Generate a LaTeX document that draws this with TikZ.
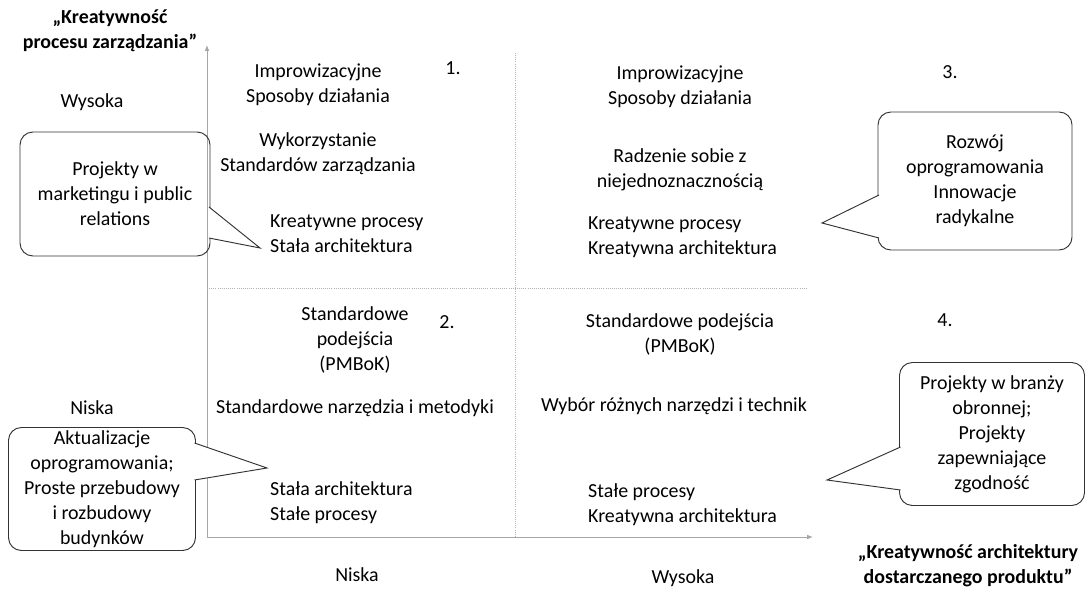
\documentclass[tikz,border=0pt]{standalone}
\usepackage{fontspec}
\setmainfont{Carlito}
\usetikzlibrary{arrows.meta}

\begin{document}
\begin{tikzpicture}[x=0.03cm,y=-0.03cm,>={Latex[length=5pt,width=4pt]},
	every node/.style={font=\fontsize{17}{21.3}\selectfont, align=center, inner sep=0pt},
	axis/.style={draw=gray!70, line width=0.8pt},
	grid/.style={draw=gray!60, densely dotted, line width=0.8pt},
	bubble/.style={draw=black!80, line width=0.8pt, rounded corners=11pt},
	pointer/.style={draw=black!80, fill=white, line width=0.8pt}]

	\useasboundingbox (0,0) rectangle (1087,593);

	% axes and quadrants
	\coordinate (O) at (207,537);
	\coordinate (ytop) at (207,45);
	\coordinate (xend) at (813,537);
	\coordinate (hl) at (207,288);
	\coordinate (hr) at (808,288);
	\coordinate (vt) at (515,53);
	\coordinate (vb) at (515,537);
	\draw [axis,->] (O) -- (ytop);
	\draw [axis,->] (O) -- (xend);
	\draw [grid] (hl) -- (hr);
	\draw [grid] (vt) -- (vb);

	\node [font=\bfseries\fontsize{17}{21.3}\selectfont] (ylab) at (110,31) {„Kreatywność\\procesu zarządzania”};
	\node (yhigh) at (92,102) {Wysoka};
	\node (ylow) at (92,408) {Niska};
	\node (xlow) at (357,575) {Niska};
	\node (xhigh) at (683,578) {Wysoka};
	\node [font=\bfseries\fontsize{17}{21.3}\selectfont] (xlab) at (968,566) {„Kreatywność architektury\\dostarczanego produktu”};

	% quadrant 1
	\node (q1a) at (318,85) {Improwizacyjne\\Sposoby działania};
	\node (q1b) at (318,154) {Wykorzystanie\\Standardów zarządzania};
	\node [anchor=west,align=left] (q1c) at (270,234) {Kreatywne procesy\\Stała architektura};
	\node (n1) at (453,68) {1.};

	% quadrant 2
	\node (q2a) at (355,340) {Standardowe\\podejścia\\(PMBoK)};
	\node (q2b) at (355,408) {Standardowe narzędzia i metodyki};
	\node [anchor=west,align=left] (q2c) at (270,503) {Stała architektura\\Stałe procesy};
	\node (n2) at (447,322) {2.};

	% quadrant 3
	\node (q3a) at (680,87) {Improwizacyjne\\Sposoby działania};
	\node (q3b) at (680,170) {Radzenie sobie z\\niejednoznacznością};
	\node [anchor=west,align=left] (q3c) at (588,237) {Kreatywne procesy\\Kreatywna architektura};
	\node (n3) at (950,72) {3.};

	% quadrant 4
	\node (q4a) at (680,334) {Standardowe podejścia\\(PMBoK)};
	\node (q4b) at (674,406) {Wybór różnych narzędzi i technik};
	\node [anchor=west,align=left] (q4c) at (588,505) {Stałe procesy\\Kreatywna architektura};
	\node (n4) at (945,320) {4.};

	% callouts
	\node [bubble,minimum width=5.7cm,minimum height=3.72cm] (c1) at (115,194) {Projekty w\\marketingu i public\\relations};
	\node [bubble,minimum width=5.61cm,minimum height=3.69cm] (c2) at (102,489) {Aktualizacje\\oprogramowania;\\Proste przebudowy\\i rozbudowy\\budynków};
	\node [bubble,minimum width=5.82cm,minimum height=4.14cm] (c3) at (975,181) {Rozwój\\oprogramowania\\Innowacje\\radykalne};
	\node [bubble,minimum width=5.55cm,minimum height=4.29cm] (c4) at (992,434) {Projekty w branży\\obronnej;\\Projekty\\zapewniające\\zgodność};

	\coordinate (t1) at (260,248);
	\coordinate (t2) at (267,468);
	\coordinate (t3) at (822,223);
	\coordinate (t4) at (827,480);
	\draw [pointer] (209,207) -- (t1) -- (209,238);
	\draw [pointer] (194.5,443) -- (t2) -- (194.5,480);
	\draw [pointer] (879,195) -- (t3) -- (879,238);
	\draw [pointer] (900.5,447) -- (t4) -- (900.5,490);

\end{tikzpicture}
\end{document}
